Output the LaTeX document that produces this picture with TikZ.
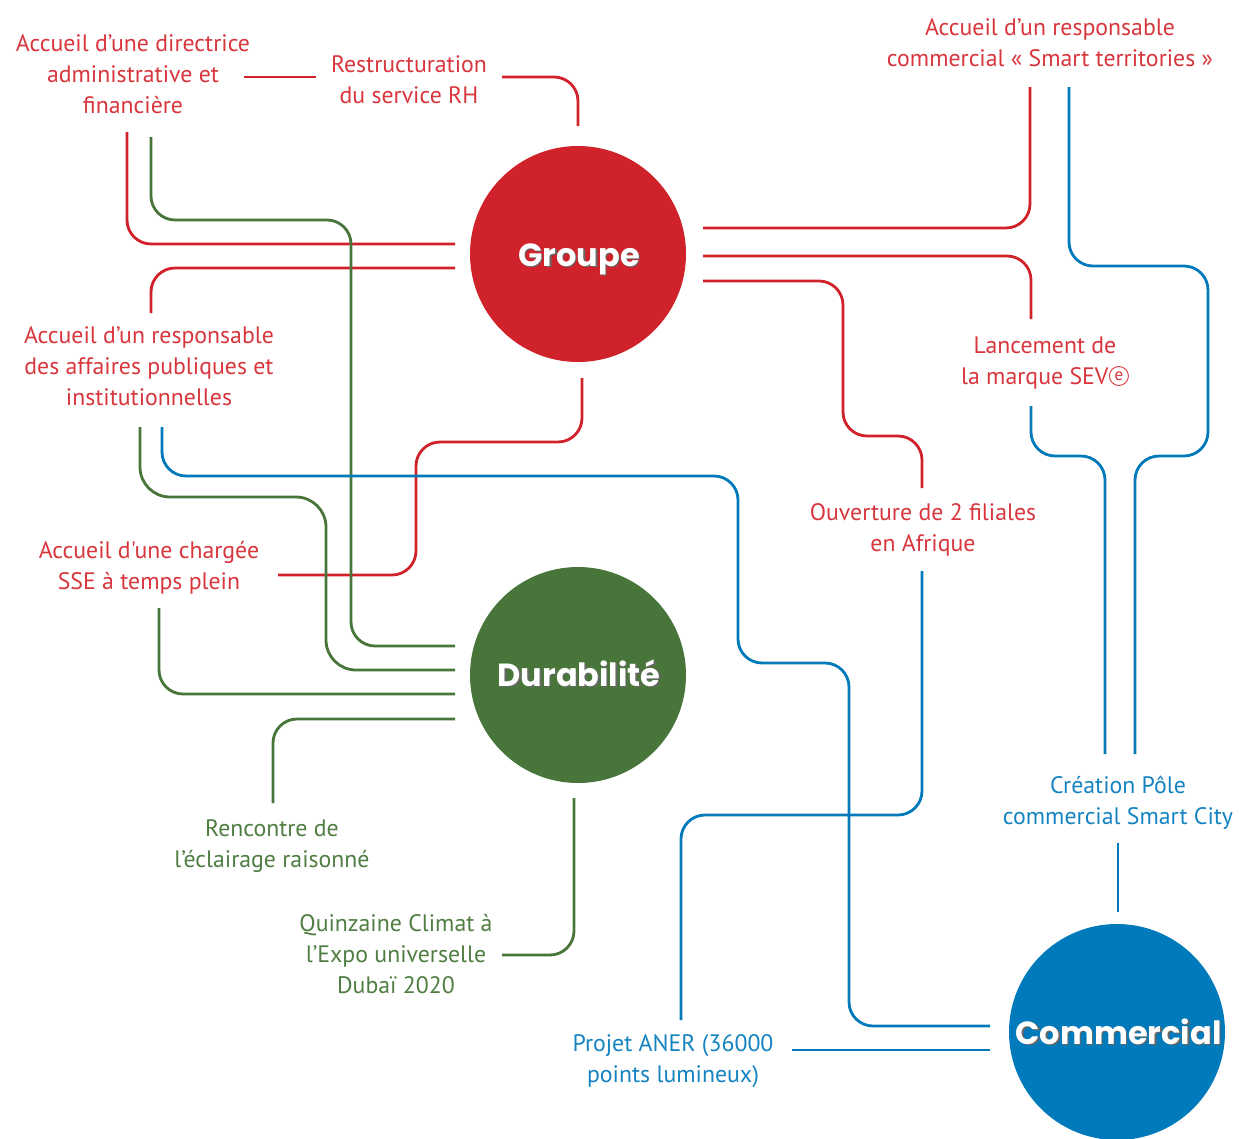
\documentclass[tikz,border=0pt]{standalone}
\usepackage{fontspec}
\setmainfont{PT Sans}[Ligatures=TeXOff]
\newfontfamily\titlefont{Poppins}
\definecolor{cred}{HTML}{D0222A}
\definecolor{cgreen}{HTML}{48763A}
\definecolor{cblue}{HTML}{007ABA}
\definecolor{tred}{HTML}{D8363D}
\definecolor{tgreen}{HTML}{4F7D42}
\definecolor{tblue}{HTML}{1583C0}
\tikzset{
  lbl/.style={align=center, font=\fontsize{23.8}{31}\selectfont, inner sep=0pt},
  hub/.style={circle, minimum size=216pt, inner sep=0pt},
  hubtxt/.style={font=\titlefont\bfseries\fontsize{32}{32}\selectfont, text=white, inner sep=0pt, anchor=base},
  hubshadow/.style={font=\titlefont\bfseries\fontsize{32}{32}\selectfont, text=black!60, inner sep=0pt, anchor=base},
  rline/.style={draw=cred, line width=2.8pt, rounded corners=24pt},
  gline/.style={draw=cgreen, line width=2.8pt, rounded corners=24pt},
  bline/.style={draw=cblue, line width=2.8pt, rounded corners=24pt},
}
\begin{document}
\begin{tikzpicture}[x=1pt,y=-1pt]
\useasboundingbox (0,0) rectangle (1239,1138);

% hubs
\node[hub, fill=cred] (groupe) at (578,254) {};
\node[hub, fill=cgreen] (durab) at (578,675) {};
\node[hub, fill=cblue] (commer) at (1117,1032) {};
\node[hubshadow] (groupeS) at (580.5,267.5) {Groupe};
\node[hubtxt] (groupeT) at (579,266) {Groupe};
\node[hubshadow] (durabS) at (580.5,687.5) {Durabilité};
\node[hubtxt] (durabT) at (579,686) {Durabilité};
\node[hubshadow] (commerS) at (1120,1045.5) {Commercial};
\node[hubtxt] (commerT) at (1118.5,1044) {Commercial};

% labels
\node[lbl, text=tred] (dir) at (133,74) {Accueil d’une directrice\\administrative et\\financière};
\node[lbl, text=tred] (rh) at (409,80) {Restructuration\\du service RH};
\node[lbl, text=tred] (smt) at (1050,42.5) {Accueil d’un responsable\\commercial « Smart territories »};
\node[lbl, text=tred] (aff) at (149,366) {Accueil d’un responsable\\des affaires publiques et\\institutionnelles};
\node[lbl, text=tred] (sev) at (1045,363.5) {Lancement de\\la marque SEV\kern0.5pt\tikz[baseline={([yshift=1pt]sevmark.south)}]\node[draw=tred, circle, line width=0.9pt, inner sep=0pt, minimum size=19pt, font=\fontsize{17}{17}\selectfont] (sevmark) {e};};
\node[lbl, text=tred] (afr) at (923,529.5) {Ouverture de 2 filiales\\en Afrique};
\node[lbl, text=tred] (sse) at (149,568) {Accueil d'une chargée\\SSE à temps plein};
\node[lbl, text=tgreen] (ecl) at (272,846.5) {Rencontre de\\l’éclairage raisonné};
\node[lbl, text=tgreen] (dub) at (396,954.5) {Quinzaine Climat à\\l’Expo universelle\\Dubaï 2020};
\node[lbl, text=tblue] (pole) at (1118,802.5) {Création Pôle\\commercial Smart City};
\node[lbl, text=tblue] (aner) at (673,1061.5) {Projet ANER (36000\\points lumineux)};

% red connectors (Groupe)
\draw[rline] (127,132) -- (127,244) -- (455,244);
\draw[rline] (244,77) -- (316,77);
\draw[rline] (502,77) -- (578,77) -- (578,126);
\draw[rline] (455,268) -- (151,268) -- (151,313);
\draw[rline] (582,378) -- (582,442) -- (416,442) -- (416,575) -- (278,575);
\draw[rline] (703,228) -- (1030,228) -- (1030,87);
\draw[rline] (703,256) -- (1031,256) -- (1031,319);
\draw[rline] (703,281) -- (843,281) -- (843,436) -- (922,436) -- (922,488);

% green connectors (Durabilité)
\draw[gline] (151,137) -- (151,220) -- (351,220) -- (351,646) -- (455,646);
\draw[gline, rounded corners=30pt] (140,427) -- (140,497) -- (326,497) -- (326,670) -- (455,670);
\draw[gline] (159,608) -- (159,694) -- (455,694);
\draw[gline] (455,719) -- (273,719) -- (273,803);
\draw[gline] (574,798) -- (574,955) -- (502,955);

% blue connectors (Commercial)
\draw[bline] (162,427) -- (162,476) -- (738,476) -- (738,663) -- (849,663) -- (849,1026) -- (990,1026);
\draw[bline] (1069,87) -- (1069,266) -- (1208,266) -- (1208,456) -- (1135,456) -- (1135,754);
\draw[bline] (1031,406) -- (1031,456) -- (1105,456) -- (1105,754);
\draw[bline] (1118,843) -- (1118,912);
\draw[bline] (922,571) -- (922,815) -- (681,815) -- (681,1020);
\draw[bline] (792,1050) -- (990,1050);
\end{tikzpicture}
\end{document}
